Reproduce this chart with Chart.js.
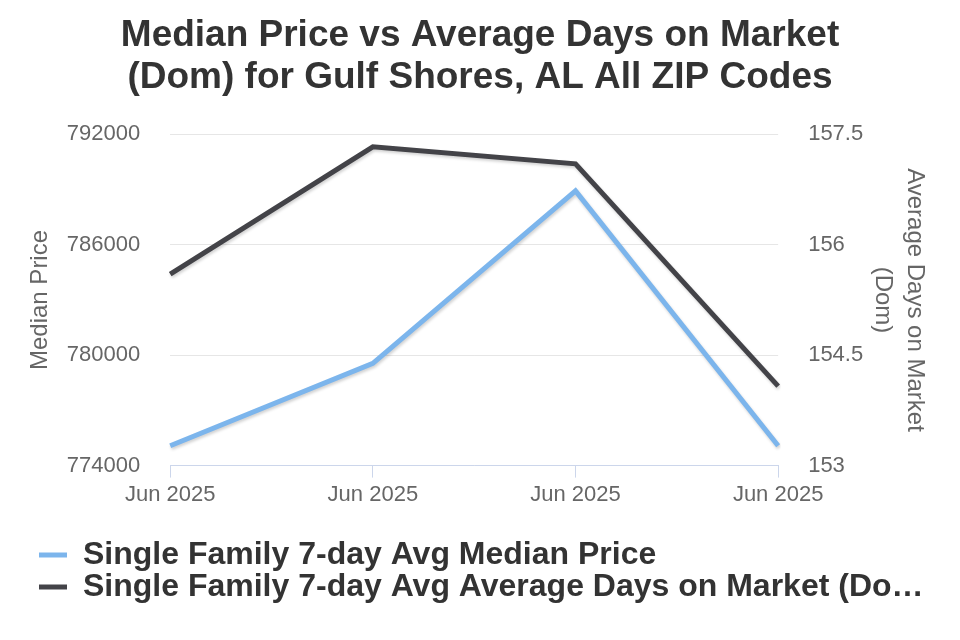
<!DOCTYPE html>
<html>
<head>
<meta charset="utf-8">
<script src="https://cdn.jsdelivr.net/npm/chart.js@4.4.1/dist/chart.umd.min.js"></script>
<style>
  html, body { margin: 0; padding: 0; background: #fff; }
  #wrap { width: 960px; height: 640px; }
</style>
</head>
<body>
<div id="wrap"><canvas id="chart" width="960" height="640"></canvas></div>
<script>
// data
const labels = ["Jun 2025", "Jun 2025", "Jun 2025", "Jun 2025"];
const medianPrice = [775080, 779560, 788930, 775080];
const daysOnMarket = [155.6, 157.33, 157.1, 154.08];
const priceTicks = [774000, 780000, 786000, 792000];
const domTicks = [153, 154.5, 156, 157.5];

const FONT = "'Liberation Sans', Arial, sans-serif";

// soft drop shadow under the lines
const lineShadow = {
  id: "lineShadow",
  beforeDatasetDraw(chart) {
    const ctx = chart.ctx;
    ctx.save();
    ctx.shadowColor = "rgba(0, 0, 0, 0.18)";
    ctx.shadowBlur = 3;
    ctx.shadowOffsetX = 1;
    ctx.shadowOffsetY = 2;
  },
  afterDatasetDraw(chart) {
    chart.ctx.restore();
  },
};

// legend sits a bit further in than the y axis title
const legendShift = {
  id: "legendShift",
  afterLayout(chart) {
    chart.legend.left += 19;
    chart.legend.right += 19;
  },
};

new Chart(document.getElementById("chart"), {
  type: "line",
  data: {
    labels,
    datasets: [
      {
        label: "Single Family 7-day Avg Median Price",
        data: medianPrice,
        borderColor: "#7cb5ec",
        backgroundColor: "#7cb5ec",
        borderWidth: 5,
        pointRadius: 0,
        tension: 0,
        yAxisID: "y",
      },
      {
        label: "Single Family 7-day Avg Average Days on Market (Dom)",
        data: daysOnMarket,
        borderColor: "#434348",
        backgroundColor: "#434348",
        borderWidth: 5,
        pointRadius: 0,
        tension: 0,
        yAxisID: "y1",
      },
    ],
  },
  options: {
    responsive: false,
    animation: false,
    layout: { padding: { left: 20, right: 20, top: 0, bottom: 27 } },
    plugins: {
      title: {
        display: true,
        text: ["Median Price vs Average Days on Market", "(Dom) for Gulf Shores, AL All ZIP Codes"],
        color: "#333333",
        font: { family: FONT, size: 37, weight: "bold", lineHeight: 1.14 },
        padding: { top: 15, bottom: 35 },
      },
      legend: {
        position: "bottom",
        align: "start",
        labels: {
          color: "#333333",
          font: { family: FONT, size: 32, weight: "bold" },
          boxWidth: 28,
          boxHeight: 5,
          padding: 0,
          generateLabels(chart) {
            const items = Chart.defaults.plugins.legend.labels.generateLabels(chart);
            items.forEach((it) => {
              if (it.text.length > 50) it.text = it.text.slice(0, 50) + "…";
              it.lineWidth = 0;
            });
            return items;
          },
        },
      },
      tooltip: { enabled: false },
    },
    scales: {
      x: {
        offset: false,
        afterFit(axis) { axis.height += 27; },
        border: { color: "#ccd6eb", width: 1 },
        grid: { drawOnChartArea: false, drawTicks: true, tickLength: 12, color: "#ccd6eb" },
        ticks: { color: "#666666", font: { family: FONT, size: 22 }, maxRotation: 0, padding: 4 },
      },
      y: {
        position: "left",
        min: priceTicks[0],
        max: priceTicks[priceTicks.length - 1],
        afterBuildTicks(axis) { axis.ticks = priceTicks.map((v) => ({ value: v })); },
        afterFit(axis) { axis.width -= 30; },
        border: { display: false },
        grid: { color: "#e6e6e6", lineWidth: 1, drawTicks: false },
        ticks: { color: "#666666", font: { family: FONT, size: 22 }, padding: 30, callback: (v) => String(v) },
        title: { display: true, text: "Median Price", color: "#666666", font: { family: FONT, size: 24 }, padding: { top: 6, bottom: 12 } },
      },
      y1: {
        position: "right",
        min: domTicks[0],
        max: domTicks[domTicks.length - 1],
        afterBuildTicks(axis) { axis.ticks = domTicks.map((v) => ({ value: v })); },
        afterFit(axis) { axis.width -= 30; },
        border: { display: false },
        grid: { drawOnChartArea: false, drawTicks: false },
        ticks: { color: "#666666", font: { family: FONT, size: 22 }, padding: 30, callback: (v) => String(v) },
        title: { display: true, text: ["Average Days on Market", "(Dom)"], color: "#666666", font: { family: FONT, size: 24, lineHeight: 1.35 }, padding: { top: 9, bottom: 3 } },
      },
    },
  },
  plugins: [lineShadow, legendShift],
});
</script>
</body>
</html>
